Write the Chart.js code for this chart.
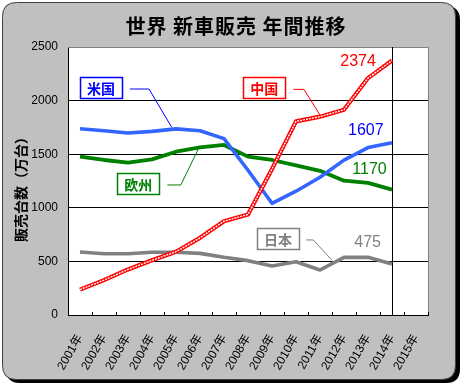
<!DOCTYPE html>
<html><head><meta charset="utf-8">
<script src="https://cdn.jsdelivr.net/npm/chart.js@4.4.1/dist/chart.umd.min.js"></script>
<style>html,body{margin:0;padding:0;background:#fff;}#wrap{width:462px;height:386px;position:relative;}</style>
</head><body><div id="wrap"><canvas id="c" width="462" height="386"></canvas></div>
<script>
// ---- data ----
const titleText = '世界 新車販売 年間推移';
const yAxisTitle = '販売台数（万台）';
const categoryLabels = ['2001年','2002年','2003年','2004年','2005年','2006年','2007年','2008年','2009年','2010年','2011年','2012年','2013年','2014年','2015年'];
const dataYears = [2001,2002,2003,2004,2005,2006,2007,2008,2009,2010,2011,2012,2013,2014];
const usSales     = [1738,1719,1698,1713,1736,1719,1645,1350,1042,1155,1285,1445,1562,1607];
const europeSales = [1477,1446,1421,1452,1523,1564,1586,1477,1446,1395,1345,1253,1232,1170];
const chinaSales  = [237,325,425,510,590,720,875,938,1362,1806,1850,1915,2210,2374];
const japanSales  = [588,572,572,585,585,575,538,507,457,497,420,538,538,475];
const yTickValues = [0,500,1000,1500,2000,2500];
const markerYear = 2014;

// callouts anchored in data units (year, value)
const callouts = [
  {text:'米国', color:'#0000ff', cx:2001.875, cy:2122, leader:[[2003.08,2108],[2003.875,2108],[2004.82,1751]]},
  {text:'中国', color:'#ff0000', cx:2008.68, cy:2124, leader:[[2009.89,2105],[2010.33,2105],[2011.0,1866]]},
  {text:'欧州', color:'#008000', cx:2003.43, cy:1227, leader:[[2004.64,1213],[2005.2,1213],[2005.96,1563]]},
  {text:'日本', color:'#808080', cx:2009.25, cy:711, leader:[[2010.42,700],[2010.72,700],[2011.49,513]]}
];
const endLabels = [
  {series:chinaSales, color:'#ff0000', x:2013.33, y:2360},
  {series:usSales, color:'#0000ff', x:2013.65, y:1716},
  {series:europeSales, color:'#008000', x:2013.78, y:1353},
  {series:japanSales, color:'#808080', x:2013.54, y:676}
];

const pts = arr => dataYears.map((yr,i)=>({x:yr, y:arr[i]}));

function rrect(ctx,x,y,w,h,r){
  ctx.beginPath();
  ctx.moveTo(x+r,y);ctx.lineTo(x+w-r,y);ctx.quadraticCurveTo(x+w,y,x+w,y+r);
  ctx.lineTo(x+w,y+h-r);ctx.quadraticCurveTo(x+w,y+h,x+w-r,y+h);
  ctx.lineTo(x+r,y+h);ctx.quadraticCurveTo(x,y+h,x,y+h-r);
  ctx.lineTo(x,y+r);ctx.quadraticCurveTo(x,y,x+r,y);ctx.closePath();
}

const deco = {
  id:'deco',
  beforeDraw(chart){
    const ctx = chart.ctx, a = chart.chartArea;
    ctx.save();
    ctx.fillStyle='#fff'; ctx.fillRect(0,0,chart.width,chart.height);
    rrect(ctx,6,6,454,377,14); ctx.fillStyle='#000'; ctx.fill();
    rrect(ctx,2.5,2.5,453,377,14); ctx.fillStyle='#c0c0c0'; ctx.fill();
    ctx.strokeStyle='#404040'; ctx.lineWidth=1; ctx.stroke();
    ctx.fillStyle='#fff'; ctx.fillRect(a.left,a.top,a.right-a.left,a.bottom-a.top);
    ctx.fillStyle='#000'; ctx.textAlign='center'; ctx.textBaseline='middle';
    ctx.font='bold 20px "Noto Sans CJK JP"';
    try{ ctx.letterSpacing='1px'; }catch(e){}
    ctx.fillText(titleText, 236, 26);
    try{ ctx.letterSpacing='0px'; }catch(e){}
    ctx.translate(21,186); ctx.rotate(-Math.PI/2);
    ctx.font='bold 14px "Noto Sans CJK JP"';
    ctx.fillText(yAxisTitle,0,0);
    ctx.restore();
  },
  beforeDatasetsDraw(chart){
    const ctx = chart.ctx, a = chart.chartArea, xs = chart.scales.x, xd = chart.scales.xd;
    ctx.save();
    ctx.strokeStyle='#808080'; ctx.lineWidth=1;
    ctx.beginPath(); ctx.moveTo(a.left, a.top+0.5); ctx.lineTo(a.right+0.5, a.top+0.5); ctx.lineTo(a.right+0.5, a.bottom); ctx.stroke();
    ctx.strokeStyle='#000';
    const vx = Math.round(xd.getPixelForValue(markerYear))+0.5;
    ctx.beginPath(); ctx.moveTo(vx,a.top); ctx.lineTo(vx,a.bottom); ctx.stroke();
    const half = (xs.getPixelForValue(1)-xs.getPixelForValue(0))/2;
    ctx.beginPath();
    for(let i=0;i<=categoryLabels.length;i++){
      const px = Math.round(xs.getPixelForValue(Math.min(i,categoryLabels.length-1)) + (i<categoryLabels.length?-half:half))+0.5;
      ctx.moveTo(px,a.bottom-3); ctx.lineTo(px,a.bottom);
    }
    ctx.stroke();
    ctx.restore();
  },
  afterDraw(chart){
    const ctx = chart.ctx, xd = chart.scales.xd, ys = chart.scales.y;
    ctx.save();
    callouts.forEach(c=>{
      const cx = xd.getPixelForValue(c.cx), cy = ys.getPixelForValue(c.cy);
      ctx.strokeStyle=c.color; ctx.lineWidth=1;
      ctx.beginPath();
      c.leader.forEach((p,i)=>{const px=xd.getPixelForValue(p[0]), py=ys.getPixelForValue(p[1]); i?ctx.lineTo(px,py):ctx.moveTo(px,py);});
      ctx.stroke();
      const w=42,h=21, bx=Math.round(cx-w/2)+0.5, by=Math.round(cy-h/2)+0.5;
      ctx.fillStyle='#fff'; ctx.fillRect(bx,by,w,h);
      ctx.lineWidth=1.5; ctx.strokeRect(bx,by,w,h);
      ctx.fillStyle=c.color; ctx.font='bold 14px "Noto Sans CJK JP"'; ctx.textAlign='center'; ctx.textBaseline='middle';
      ctx.fillText(c.text, cx, cy+1);
    });
    endLabels.forEach(l=>{
      ctx.fillStyle=l.color; ctx.font='16px "Liberation Sans"'; ctx.textAlign='right'; ctx.textBaseline='middle';
      ctx.fillText(String(l.series[l.series.length-1]), xd.getPixelForValue(l.x), ys.getPixelForValue(l.y));
    });
    ctx.restore();
  }
};

new Chart(document.getElementById('c'), {
  type:'line',
  data:{
    labels: categoryLabels,
    datasets:[
      {label:'中国', data:pts(chinaSales), xAxisID:'xd', borderColor:'#ffffff', borderWidth:1.4, borderDash:[2,1], pointRadius:0, order:0},
      {label:'中国', data:pts(chinaSales), xAxisID:'xd', borderColor:'#ff0000', borderWidth:4.2, pointRadius:0, order:1},
      {label:'米国', data:pts(usSales), xAxisID:'xd', borderColor:'#3366ff', borderWidth:3.6, pointRadius:0, order:2},
      {label:'欧州', data:pts(europeSales), xAxisID:'xd', borderColor:'#008000', borderWidth:3.8, pointRadius:0, order:3},
      {label:'日本', data:pts(japanSales), xAxisID:'xd', borderColor:'#808080', borderWidth:3.6, pointRadius:0, order:4}
    ]
  },
  options:{
    responsive:false, animation:false, devicePixelRatio:1,
    layout:{padding:{left:0, top:47, right:34, bottom:0}},
    plugins:{legend:{display:false}, title:{display:false}, tooltip:{enabled:false}},
    elements:{line:{tension:0, borderCapStyle:'butt', borderJoinStyle:'round'}},
    scales:{
      x:{type:'category', position:'bottom', offset:true,
        grid:{display:false, drawTicks:false, offset:true},
        border:{display:true, color:'#000', width:1},
        ticks:{autoSkip:false, minRotation:60, maxRotation:60, padding:17, color:'#000', font:{family:'"Liberation Sans","Noto Sans CJK JP"', size:12}},
        afterFit(s){ s.height = 71; }
      },
      xd:{type:'linear', position:'bottom', display:false, min:2000.5, max:2015.5},
      y:{type:'linear', min:0, max:2500,
        afterBuildTicks(s){ s.ticks = yTickValues.map(v=>({value:v})); },
        grid:{color: c => (c.tick && c.tick.value===2500) ? '#808080' : '#000', lineWidth:1, drawTicks:false},
        border:{display:true, color:'#000', width:1},
        ticks:{padding:10, color:'#000', font:{family:'"Liberation Sans"', size:12}, callback: v => String(v)},
        afterFit(s){ s.width = 68; }
      }
    }
  },
  plugins:[deco]
});
</script></body></html>
